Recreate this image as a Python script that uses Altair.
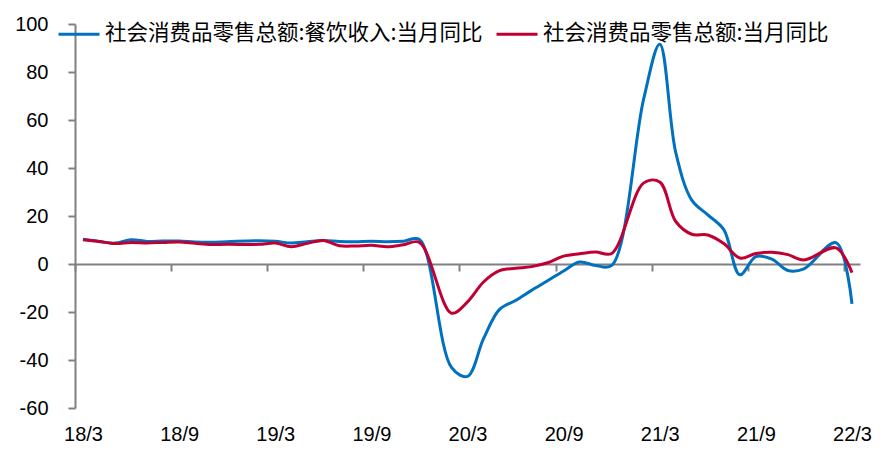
import altair as alt
import pandas as pd

# months shown (January values are not published separately -> skipped)
dates = [
    "2018-03", "2018-04", "2018-05", "2018-06", "2018-07", "2018-08", "2018-09", "2018-10", "2018-11", "2018-12",
    "2019-02", "2019-03", "2019-04", "2019-05", "2019-06", "2019-07", "2019-08", "2019-09", "2019-10", "2019-11", "2019-12",
    "2020-02", "2020-03", "2020-04", "2020-05", "2020-06", "2020-07", "2020-08", "2020-09", "2020-10", "2020-11", "2020-12",
    "2021-02", "2021-03", "2021-04", "2021-05", "2021-06", "2021-07", "2021-08", "2021-09", "2021-10", "2021-11", "2021-12",
    "2022-02", "2022-03",
]

catering = [
    10.3, 9.4, 8.7, 10.1, 9.4, 9.6, 9.6, 9.2, 9.1, 9.3,
    9.7, 9.5, 8.7, 9.3, 9.8, 9.4, 9.3, 9.5, 9.3, 9.5, 10.2,
    -43.1, -46.8, -31.1, -18.9, -15.2, -11.0, -7.0, -2.9, 0.8, -0.6, -0.6,
    68.9, 91.6, 46.4, 26.6, 20.5, 14.3, -4.5, 3.1, 2.0, -2.7, -2.0,
    8.9, -16.6,
]

retail = [
    10.1, 9.4, 8.5, 9.0, 8.8, 9.0, 9.2, 8.6, 8.1, 8.2,
    8.2, 8.7, 7.2, 8.6, 9.8, 7.6, 7.5, 7.8, 7.2, 8.0, 9.0,
    -20.5, -15.8, -7.5, -2.8, -1.8, -1.1, 0.5, 3.3, 4.3, 5.0, 4.4,
    33.8, 34.2, 17.7, 12.4, 12.1, 8.5, 2.5, 4.4, 4.9, 3.9, 1.7,
    6.7, -3.6,
]

series_names = ["社会消费品零售总额:餐饮收入:当月同比", "社会消费品零售总额:当月同比"]
series_colors = ["#0070C0", "#C00032"]

tick_labels = ["18/3", "18/9", "19/3", "19/9", "20/3", "20/9", "21/3", "21/9", "22/3"]
y_ticks = [-60, -40, -20, 0, 20, 40, 60, 80, 100]


def month_index(d):
    y, m = d.split("-")
    return (int(y) - 2018) * 12 + int(m) - 3


idx = [month_index(d) for d in dates]
df_blue = pd.DataFrame({"idx": idx, "value": catering, "series": series_names[0]})
df_red = pd.DataFrame({"idx": idx, "value": retail, "series": series_names[1]})

W, H = 785, 384
n_slots = 49
slot = W / n_slots
zero_offset = H * 60 / 160

label_arr = "[" + ",".join("'" + t + "'" for t in tick_labels) + "]"

x_enc = alt.X(
    "idx:Q",
    scale=alt.Scale(domain=[-0.5, n_slots - 0.5], nice=False, zero=False),
    axis=alt.Axis(
        values=[i * 6 for i in range(len(tick_labels))],
        labelExpr=label_arr + "[round(datum.value/6)]",
        tickOffset=-slot / 2,
        labelOffset=slot / 2,
        offset=-zero_offset,
        labelPadding=153,
        tickSize=7,
        tickWidth=2,
        tickColor="#808080",
        domainColor="#808080",
        domainWidth=2,
        grid=False,
        title=None,
        labelFlush=False,
        labelOverlap=False,
        labelFont="Liberation Sans",
        labelFontSize=20,
        labelColor="#000000",
    ),
)

y_enc = alt.Y(
    "value:Q",
    scale=alt.Scale(domain=[-60, 100], nice=False, zero=False),
    axis=alt.Axis(
        values=y_ticks,
        labelExpr="datum.value + ''",
        tickSize=7,
        tickWidth=2,
        tickColor="#808080",
        domainColor="#808080",
        domainWidth=2,
        labelPadding=20,
        grid=False,
        title=None,
        labelFont="Liberation Sans",
        labelFontSize=20,
        labelColor="#000000",
    ),
)

color_enc = alt.Color(
    "series:N",
    scale=alt.Scale(domain=series_names, range=series_colors),
    legend=alt.Legend(
        orient="none",
        legendX=-18,
        legendY=-12,
        direction="horizontal",
        title=None,
        symbolType="stroke",
        symbolStrokeWidth=3,
        symbolSize=1681,
        labelFont="Noto Sans CJK SC",
        labelFontSize=21.5,
        labelColor="#000000",
        labelLimit=0,
        labelOffset=4,
        columnPadding=7,
        padding=0,
    ),
)

blue = alt.Chart(df_blue).mark_line(interpolate="catmull-rom", strokeWidth=3).encode(
    x=x_enc, y=y_enc, color=color_enc
)
red = alt.Chart(df_red).mark_line(interpolate="catmull-rom", strokeWidth=3).encode(
    x=x_enc, y=y_enc, color=color_enc
)

chart = (
    alt.layer(blue, red)
    .properties(
        width=W,
        height=H,
        autosize=alt.AutoSizeParams(type="none"),
        padding={"left": 67, "top": 16, "right": 15, "bottom": 44},
        background="#ffffff",
    )
    .configure_view(stroke=None)
)

chart.save("out.html", embed_options={"renderer": "svg", "actions": False})
